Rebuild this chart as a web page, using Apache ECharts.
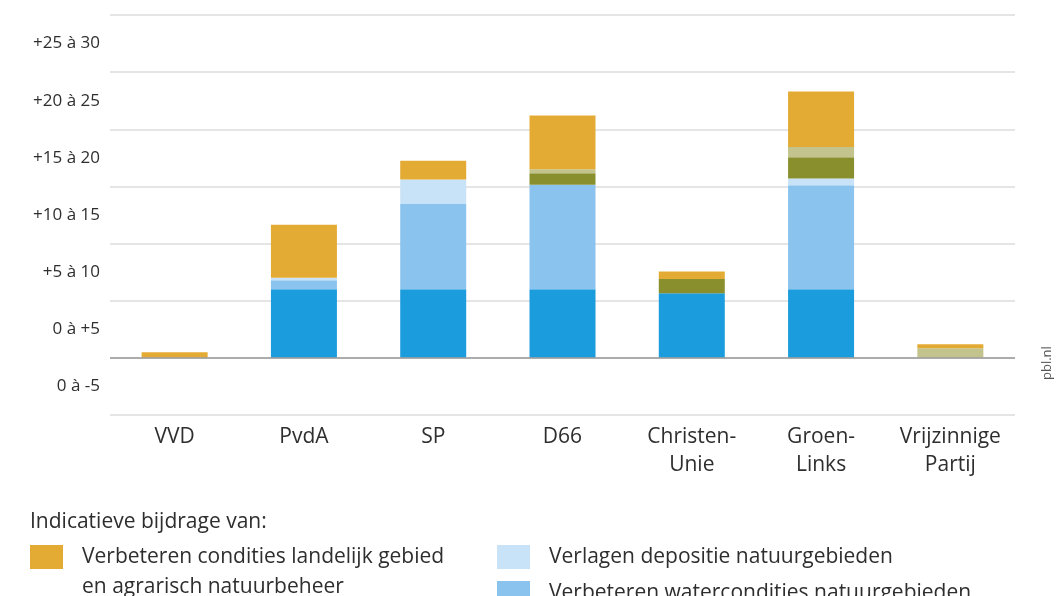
<!DOCTYPE html>
<html>
<head>
<meta charset="utf-8">
<script src="https://cdn.jsdelivr.net/npm/echarts@6/dist/echarts.min.js"></script>
<style>
html,body{margin:0;padding:0;background:#fff;}
#chart{width:1060px;height:596px;}
</style>
</head>
<body>
<div id="chart"></div>
<script>
// ---- data ----
var parties = ['VVD', 'PvdA', 'SP', 'D66', 'Christen-\nUnie', 'Groen-\nLinks', 'Vrijzinnige\nPartij'];
var bandLabels = ['0 à -5', '0 à +5', '+5 à 10', '+10 à 15', '+15 à 20', '+20 à 25', '+25 à 30'];

var natuurareaal      = [0, 6.0, 6.0, 6.0, 5.65, 6.0, 0];
var watercondities    = [0, 0.8, 7.5, 9.15, 0, 9.1, 0];
var depositie         = [0, 0.2, 2.1, 0, 0, 0.6, 0];
var beheerNatuur      = [0, 0, 0, 1.0, 1.25, 1.85, 0];
var overig            = [0, 0, 0, 0.35, 0, 0.9, 0.85];
var landelijkGebied   = [0.5, 4.65, 1.65, 4.7, 0.65, 4.85, 0.35];

var legendTitle = 'Indicatieve bijdrage van:';
var names = {
  landelijk: 'Verbeteren condities landelijk gebied\nen agrarisch natuurbeheer',
  depositie: 'Verlagen depositie natuurgebieden',
  water: 'Verbeteren watercondities natuurgebieden',
  areaal: 'Uitbreiden natuurareaal',
  beheer: 'Verbeteren natuurbeheer',
  overig: 'Overige maatregelen'
};
var colors = {
  areaal: '#1b9cdc',
  water: '#8ac4ee',
  depositie: '#c8e3f7',
  beheer: '#8a8f2e',
  overig: '#c3c38d',
  landelijk: '#e4ab34'
};
// legend layout: [key, column, row]
var legendItems = [
  ['landelijk', 0, 0], ['beheer', 0, 2], ['overig', 0, 3],
  ['depositie', 1, 0], ['water', 1, 1], ['areaal', 1, 2]
];

var FONT = 'Open Sans';
var TXT = '#2e2e2e';
var chart = echarts.init(document.getElementById('chart'), null, {renderer: 'canvas'});

function bar(key, data, extra) {
  var s = {
    name: names[key],
    type: 'bar',
    stack: 'total',
    barWidth: 66,
    data: data,
    itemStyle: {color: colors[key]},
    emphasis: {disabled: true}
  };
  if (extra) { for (var k in extra) s[k] = extra[k]; }
  return s;
}

var graphics = [
  {
    type: 'text', left: 30, top: 512,
    style: {text: legendTitle, fill: TXT, font: '21px "' + FONT + '"'}
  },
  {
    type: 'text', x: 1041, y: 380, rotation: Math.PI / 2,
    style: {text: 'pbl.nl', fill: '#555', font: '13px "' + FONT + '"'}
  }
];
var colX = [30, 497], rowY0 = 545, rowH = 36;
legendItems.forEach(function (it) {
  var key = it[0], x = colX[it[1]], y = rowY0 + it[2] * rowH;
  graphics.push({
    type: 'rect', shape: {x: x, y: y, width: 33, height: 24},
    style: {fill: colors[key]}
  });
  graphics.push({
    type: 'text', x: x + 52, y: y - 3,
    style: {text: names[key], fill: TXT, font: '21px "' + FONT + '"',
            lineHeight: 30, verticalAlign: 'top'}
  });
});

var option = {
  animation: false,
  textStyle: {fontFamily: FONT},
  grid: {left: 110, right: 45, top: 15, bottom: 181, containLabel: false},
  xAxis: {
    type: 'category',
    data: parties,
    axisLine: {show: false},
    axisTick: {show: false},
    axisLabel: {
      color: TXT, fontSize: 21, fontFamily: FONT, margin: 8, lineHeight: 28, interval: 0
    }
  },
  yAxis: [
    {
      type: 'value',
      min: -5, max: 30, interval: 5,
      axisLine: {show: false},
      axisTick: {show: false},
      axisLabel: {show: false},
      splitLine: {show: true, lineStyle: {color: '#dcdcdc', width: 1.5}}
    },
    {
      type: 'category',
      data: bandLabels,
      position: 'left',
      boundaryGap: true,
      axisLine: {show: false},
      axisTick: {show: false},
      splitLine: {show: false},
      axisLabel: {color: TXT, fontSize: 17, fontFamily: FONT, margin: 10}
    }
  ],
  graphic: graphics,
  series: [
    bar('areaal', natuurareaal, {
      markLine: {
        silent: true, symbol: 'none', label: {show: false},
        lineStyle: {color: '#9a9a9a', width: 1.5, type: 'solid'},
        data: [{yAxis: 0}]
      }
    }),
    bar('water', watercondities),
    bar('depositie', depositie),
    bar('beheer', beheerNatuur),
    bar('overig', overig),
    bar('landelijk', landelijkGebied)
  ]
};
chart.setOption(option);
</script>
</body>
</html>
